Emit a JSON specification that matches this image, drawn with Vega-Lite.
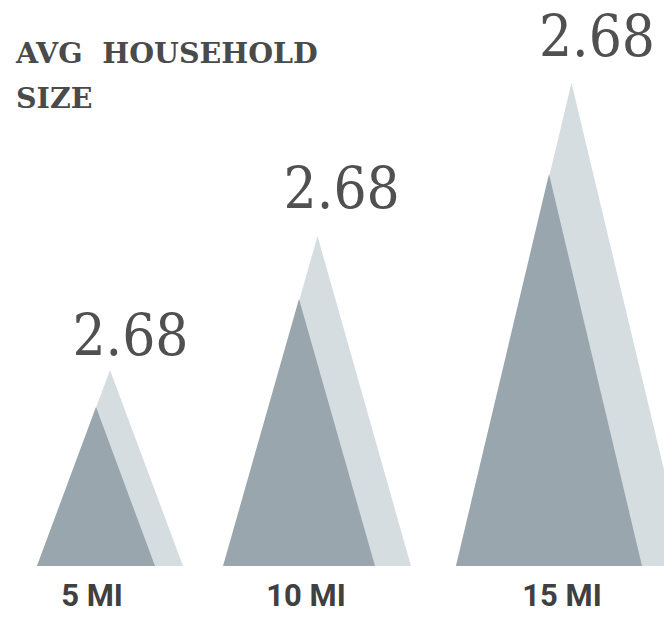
{
  "$schema": "https://vega.github.io/schema/vega-lite/v6.json",
  "width": 664,
  "height": 617,
  "autosize": {"type": "none"},
  "padding": 0,
  "background": "#ffffff",
  "config": {"view": {"stroke": null}},
  "datasets": {
    "triangles": [
      {"ring": "5 MI", "part": "back", "x": 37, "h": 0},
      {"ring": "5 MI", "part": "back", "x": 110, "h": 196},
      {"ring": "5 MI", "part": "back", "x": 183, "h": 0},
      {"ring": "5 MI", "part": "front", "x": 37, "h": 0},
      {"ring": "5 MI", "part": "front", "x": 96, "h": 159},
      {"ring": "5 MI", "part": "front", "x": 155, "h": 0},
      {"ring": "10 MI", "part": "back", "x": 224, "h": 0},
      {"ring": "10 MI", "part": "back", "x": 317.5, "h": 330},
      {"ring": "10 MI", "part": "back", "x": 411, "h": 0},
      {"ring": "10 MI", "part": "front", "x": 223, "h": 0},
      {"ring": "10 MI", "part": "front", "x": 299, "h": 267},
      {"ring": "10 MI", "part": "front", "x": 375, "h": 0},
      {"ring": "15 MI", "part": "back", "x": 456, "h": 0},
      {"ring": "15 MI", "part": "back", "x": 571.5, "h": 483},
      {"ring": "15 MI", "part": "back", "x": 687, "h": 0},
      {"ring": "15 MI", "part": "front", "x": 456, "h": 0},
      {"ring": "15 MI", "part": "front", "x": 549, "h": 392},
      {"ring": "15 MI", "part": "front", "x": 642, "h": 0}
    ],
    "values": [
      {"ring": "5 MI", "value": "2.68", "x": 130.5, "h": 211},
      {"ring": "10 MI", "value": "2.68", "x": 341.7, "h": 358},
      {"ring": "15 MI", "value": "2.68", "x": 597, "h": 510}
    ],
    "rings": [
      {"ring": "5 MI", "x": 92, "h": -40},
      {"ring": "10 MI", "x": 306, "h": -40},
      {"ring": "15 MI", "x": 562, "h": -40}
    ],
    "title": [
      {"text": "AVG\u00a0\u00a0HOUSEHOLD\nSIZE", "x": 16, "h": 503.5}
    ]
  },
  "layer": [
    {
      "data": {"name": "triangles"},
      "transform": [{"filter": "datum.part === 'back'"}],
      "mark": {"type": "area", "color": "#d6dde0", "clip": true, "interpolate": "linear"},
      "encoding": {
        "x": {"field": "x", "type": "quantitative", "scale": {"domain": [0, 664], "nice": false, "zero": false}, "axis": null},
        "y": {"field": "h", "type": "quantitative", "stack": null, "scale": {"domain": [-51, 566], "nice": false, "zero": false}, "axis": null},
        "y2": {"datum": 0},
        "detail": {"field": "ring", "type": "nominal"}
      }
    },
    {
      "data": {"name": "triangles"},
      "transform": [{"filter": "datum.part === 'front'"}],
      "mark": {"type": "area", "color": "#99a6ad", "clip": true, "interpolate": "linear"},
      "encoding": {
        "x": {"field": "x", "type": "quantitative", "axis": null},
        "y": {"field": "h", "type": "quantitative", "stack": null, "axis": null},
        "y2": {"datum": 0},
        "detail": {"field": "ring", "type": "nominal"}
      }
    },
    {
      "data": {"name": "values"},
      "mark": {"type": "text", "font": "DejaVu Serif Condensed, DejaVu Serif", "fontSize": 58, "color": "#505050", "align": "center", "baseline": "alphabetic"},
      "encoding": {
        "x": {"field": "x", "type": "quantitative", "axis": null},
        "y": {"field": "h", "type": "quantitative", "axis": null},
        "text": {"field": "value", "type": "nominal"}
      }
    },
    {
      "data": {"name": "rings"},
      "mark": {"type": "text", "font": "Roboto", "fontWeight": "bold", "fontSize": 31, "color": "#404040", "align": "center", "baseline": "alphabetic"},
      "encoding": {
        "x": {"field": "x", "type": "quantitative", "axis": null},
        "y": {"field": "h", "type": "quantitative", "axis": null},
        "text": {"field": "ring", "type": "nominal"}
      }
    },
    {
      "data": {"name": "title"},
      "mark": {"type": "text", "font": "DejaVu Serif", "fontWeight": "bold", "fontSize": 28.5, "color": "#4a4a4a", "align": "left", "baseline": "alphabetic", "lineBreak": "\n", "lineHeight": 45},
      "encoding": {
        "x": {"field": "x", "type": "quantitative", "axis": null},
        "y": {"field": "h", "type": "quantitative", "axis": null},
        "text": {"field": "text", "type": "nominal"}
      }
    }
  ]
}
